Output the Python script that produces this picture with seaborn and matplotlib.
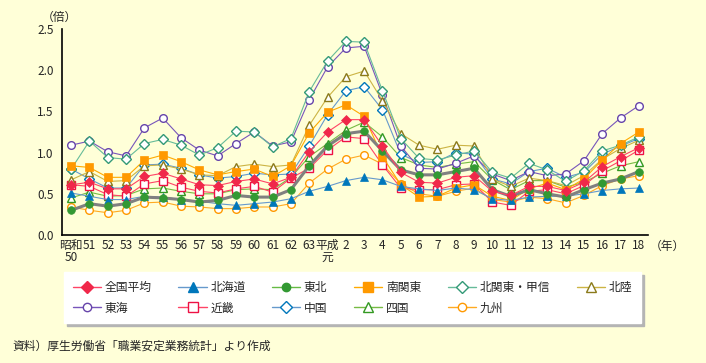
import matplotlib
matplotlib.use("Agg")
import matplotlib.pyplot as plt
import numpy as np
import pandas as pd
import seaborn as sns
from matplotlib.lines import Line2D

# x categories: 昭和50 (1975) .. 平成18 (2006)
labels = ["昭和\n50"] + [str(y) for y in range(51, 64)] + ["平成\n元"] + [str(y) for y in range(2, 19)]

national = [0.61, 0.64, 0.56, 0.56, 0.71, 0.75, 0.68, 0.61, 0.60, 0.65, 0.68, 0.62, 0.70, 1.01, 1.25, 1.40,
            1.40, 1.08, 0.76, 0.64, 0.63, 0.70, 0.72, 0.53, 0.48, 0.59, 0.59, 0.54, 0.64, 0.83, 0.95, 1.06]
hokkaido = [0.51, 0.47, 0.43, 0.43, 0.47, 0.46, 0.43, 0.41, 0.38, 0.36, 0.38, 0.40, 0.44, 0.53, 0.59, 0.66,
            0.70, 0.67, 0.59, 0.56, 0.54, 0.57, 0.55, 0.44, 0.42, 0.46, 0.47, 0.47, 0.50, 0.54, 0.56, 0.57]
tohoku = [0.30, 0.38, 0.35, 0.38, 0.46, 0.45, 0.43, 0.40, 0.42, 0.48, 0.46, 0.46, 0.55, 0.84, 1.08, 1.23,
          1.26, 1.02, 0.79, 0.73, 0.73, 0.77, 0.81, 0.55, 0.47, 0.55, 0.50, 0.46, 0.55, 0.63, 0.68, 0.77]
minami_kanto = [0.84, 0.82, 0.70, 0.70, 0.91, 0.97, 0.89, 0.79, 0.73, 0.77, 0.80, 0.71, 0.84, 1.24, 1.49, 1.58,
                1.44, 0.95, 0.61, 0.46, 0.47, 0.57, 0.61, 0.47, 0.42, 0.56, 0.63, 0.55, 0.68, 0.91, 1.11, 1.25]
kita_kanto = [0.80, 1.14, 0.94, 0.92, 1.11, 1.16, 1.09, 0.97, 1.06, 1.26, 1.25, 1.07, 1.17, 1.74, 2.11, 2.35,
              2.34, 1.75, 1.17, 0.93, 0.91, 0.97, 1.02, 0.76, 0.69, 0.87, 0.79, 0.65, 0.78, 1.02, 1.09, 1.19]
hokuriku = [0.67, 0.77, 0.65, 0.66, 0.84, 0.85, 0.80, 0.73, 0.72, 0.83, 0.86, 0.83, 0.85, 1.33, 1.67, 1.92,
            1.99, 1.63, 1.23, 1.09, 1.04, 1.09, 1.08, 0.68, 0.59, 0.69, 0.66, 0.60, 0.72, 0.92, 1.05, 1.15]
tokai = [1.09, 1.14, 1.01, 0.96, 1.30, 1.42, 1.18, 1.03, 0.96, 1.11, 1.25, 1.08, 1.13, 1.64, 2.04, 2.27,
         2.29, 1.70, 1.08, 0.81, 0.80, 0.87, 0.96, 0.74, 0.66, 0.77, 0.72, 0.74, 0.90, 1.23, 1.42, 1.57]
kinki = [0.61, 0.59, 0.49, 0.47, 0.62, 0.66, 0.58, 0.53, 0.51, 0.56, 0.59, 0.52, 0.69, 0.81, 1.03, 1.19,
         1.17, 0.85, 0.57, 0.55, 0.55, 0.61, 0.62, 0.40, 0.36, 0.53, 0.55, 0.50, 0.60, 0.78, 0.90, 1.03]
chugoku = [0.80, 0.68, 0.57, 0.57, 0.85, 0.86, 0.81, 0.73, 0.69, 0.71, 0.75, 0.73, 0.74, 1.08, 1.46, 1.75,
           1.80, 1.52, 0.98, 0.88, 0.89, 1.00, 0.98, 0.68, 0.62, 0.77, 0.81, 0.70, 0.76, 0.98, 1.08, 1.17]
shikoku = [0.45, 0.52, 0.47, 0.48, 0.56, 0.57, 0.53, 0.50, 0.50, 0.55, 0.56, 0.55, 0.70, 0.95, 1.11, 1.27,
           1.37, 1.19, 0.94, 0.85, 0.82, 0.86, 0.89, 0.67, 0.55, 0.66, 0.66, 0.58, 0.64, 0.75, 0.84, 0.89]
kyushu = [0.34, 0.30, 0.27, 0.30, 0.39, 0.40, 0.35, 0.34, 0.32, 0.32, 0.34, 0.34, 0.38, 0.63, 0.80, 0.92,
          0.97, 0.86, 0.62, 0.50, 0.47, 0.53, 0.57, 0.43, 0.40, 0.46, 0.44, 0.39, 0.48, 0.60, 0.68, 0.72]

BG = "#FFFFD8"

# name, values, line colour, marker, marker colour, filled
series = [
    ("全国平均", national, "#FF4466", "D", "#F0284A", True),
    ("北海道", hokkaido, "#6699CC", "^", "#0077BB", True),
    ("東北", tohoku, "#66BB44", "o", "#339933", True),
    ("南関東", minami_kanto, "#FFAA00", "s", "#FF9900", True),
    ("北関東・甲信", kita_kanto, "#66BB99", "D", "#339977", False),
    ("北陸", hokuriku, "#CCB444", "^", "#8B7A1A", False),
    ("東海", tokai, "#7755BB", "o", "#6644AA", False),
    ("近畿", kinki, "#FF4466", "s", "#EE1144", False),
    ("中国", chugoku, "#6699CC", "D", "#0077BB", False),
    ("四国", shikoku, "#77BB44", "^", "#339922", False),
    ("九州", kyushu, "#FFAA22", "o", "#FF9900", False),
]
msize = {"D": 5.5, "^": 6.0, "o": 5.5, "s": 6.0}

sns.set_theme(style="white")
plt.rcParams["font.family"] = ["Noto Sans CJK JP", "DejaVu Sans"]
plt.rcParams["axes.unicode_minus"] = False

fig = plt.figure(figsize=(7.06, 3.63), dpi=100, facecolor=BG)
ax = fig.add_axes([62 / 706, 1 - 235 / 363, (648 - 62) / 706, (235 - 29) / 363])
ax.set_facecolor(BG)

x = np.arange(len(labels))
draw_order = [10, 9, 8, 7, 6, 5, 4, 3, 1, 2, 0]
for z, idx in enumerate(draw_order):
    name, vals, lc, mk, mc, filled = series[idx]
    df = pd.DataFrame({"x": x, "y": vals})
    line_color = "#808080" if name == "東北" else lc
    lw = 2.2 if name == "東北" else 0.8
    sns.lineplot(data=df, x="x", y="y", ax=ax, color=line_color, linewidth=lw,
                 marker=mk, markersize=msize[mk],
                 markerfacecolor=mc if filled else "white",
                 markeredgecolor=mc, markeredgewidth=1.0 if not filled else 0.5,
                 zorder=3 + z)

handles = []
for name, vals, lc, mk, mc, filled in series:
    handles.append(Line2D([0], [0], color=lc, linewidth=1.0, marker=mk,
                          markersize=msize[mk] + 0.5,
                          markerfacecolor=mc if filled else "white",
                          markeredgecolor=mc, markeredgewidth=1.0, label=name))

ax.set_xlim(-0.5, len(labels) - 0.5)
ax.set_ylim(0, 2.5)
ax.set_yticks(np.arange(0, 2.51, 0.5))
ax.set_yticklabels([f"{v:.1f}" for v in np.arange(0, 2.51, 0.5)], fontsize=8.5)
ax.set_xticks(x)
ax.set_xticklabels(labels, fontsize=8.5, linespacing=0.9)
ax.set_xticks(np.arange(-0.5, len(labels), 1.0), minor=True)
ax.tick_params(axis="x", which="major", length=0, pad=3)
ax.tick_params(axis="x", which="minor", length=4, width=1, color="black", direction="out")
ax.tick_params(axis="y", length=4, width=1, color="black", direction="out", pad=2)
ax.set_xlabel("")
ax.set_ylabel("")
for s in ["top", "right"]:
    ax.spines[s].set_visible(False)
for s in ["left", "bottom"]:
    ax.spines[s].set_color("black")
    ax.spines[s].set_linewidth(1.2)

fig.text(42 / 706, 1 - 17 / 363, "（倍）", fontsize=8.5, va="center", ha="left")
fig.text(650 / 706, 1 - 246 / 363, "（年）", fontsize=8.5, va="center", ha="left")

order = [0, 6, 1, 7, 2, 8, 3, 9, 4, 10, 5]
leg = fig.legend([handles[i] for i in order], [series[i][0] for i in order],
                 ncol=6, loc="upper left",
                 bbox_to_anchor=(64 / 706, 1 - 323 / 363, (641 - 64) / 706, (323 - 272) / 363),
                 mode="expand", fontsize=8.5, frameon=True, fancybox=False,
                 facecolor="white", edgecolor="white", framealpha=1,
                 handlelength=2.4, handletextpad=0.3, columnspacing=1.0,
                 labelspacing=0.65, borderpad=0.75, borderaxespad=0,
                 shadow={"color": "#B4B4B4", "alpha": 1})

fig.text(12 / 706, 1 - 346 / 363, "資料）厚生労働省「職業安定業務統計」より作成",
         fontsize=8.5, va="center", ha="left")

fig.savefig("out.png", dpi=100, facecolor=BG)
